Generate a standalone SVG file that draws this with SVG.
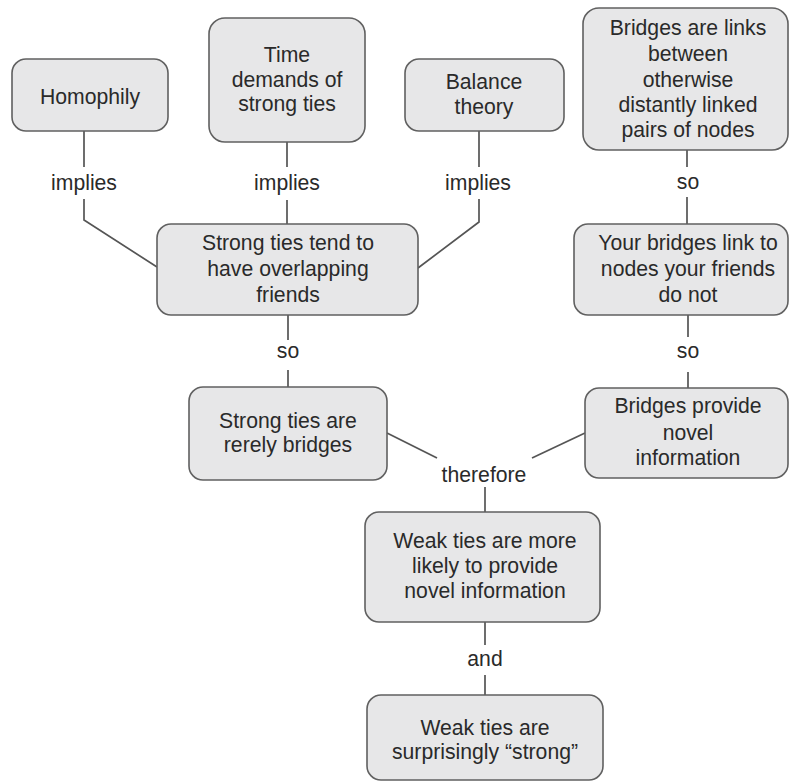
<svg xmlns="http://www.w3.org/2000/svg" width="789" height="782" viewBox="0 0 789 782">
<style>
.box{fill:#e7e7e8;stroke:#606060;stroke-width:1.6}
.t{font-family:"Liberation Sans",Arial,sans-serif;font-size:21.2px;fill:#2a2a2a;text-anchor:middle}
.c{fill:none;stroke:#555;stroke-width:1.7}
</style>
<rect width="789" height="782" fill="#fff"/>
<g id="connectors">
<path class="c" d="M84,131 V167 M84,199 V220 L157,267"/>
<path class="c" d="M287,142 V167 M287,200 V224"/>
<path class="c" d="M479,131 V167 M479,199 V222 L418,268"/>
<path class="c" d="M687,150 V167 M687,197 V224"/>
<path class="c" d="M288,315 V340 M288,370 V387"/>
<path class="c" d="M688,315 V337 M688,372 V388"/>
<path class="c" d="M387,433 L437,458"/>
<path class="c" d="M585,433 L532,458"/>
<path class="c" d="M485,487 V512"/>
<path class="c" d="M485,622 V645 M485,675 V695"/>
<text class="t" x="84" y="190">implies</text>
<text class="t" x="287" y="190">implies</text>
<text class="t" x="478" y="190">implies</text>
<text class="t" x="688" y="189">so</text>
<text class="t" x="288" y="358">so</text>
<text class="t" x="688" y="358">so</text>
<text class="t" x="484" y="482">therefore</text>
<text class="t" x="485" y="666">and</text>
</g>
<g id="homophily">
<rect class="box" x="12" y="59" width="156" height="72" rx="14"/>
<text class="t" x="90" y="104">Homophily</text>
</g>
<g id="time-demands">
<rect class="box" x="209" y="18" width="156" height="124" rx="16"/>
<text class="t" x="287" y="62">Time</text>
<text class="t" x="287" y="87">demands of</text>
<text class="t" x="287" y="111">strong ties</text>
</g>
<g id="balance-theory">
<rect class="box" x="405" y="59" width="159" height="72" rx="14"/>
<text class="t" x="484" y="89">Balance</text>
<text class="t" x="484" y="114">theory</text>
</g>
<g id="bridges-links">
<rect class="box" x="583" y="8" width="205" height="142" rx="16"/>
<text class="t" x="688" y="35">Bridges are links</text>
<text class="t" x="688" y="61">between</text>
<text class="t" x="688" y="87">otherwise</text>
<text class="t" x="688" y="112">distantly linked</text>
<text class="t" x="688" y="137">pairs of nodes</text>
</g>
<g id="strong-overlap">
<rect class="box" x="157" y="224" width="261" height="91" rx="14"/>
<text class="t" x="288" y="250">Strong ties tend to</text>
<text class="t" x="288" y="276">have overlapping</text>
<text class="t" x="288" y="302">friends</text>
</g>
<g id="your-bridges">
<rect class="box" x="574" y="224" width="214" height="91" rx="14"/>
<text class="t" x="688" y="250">Your bridges link to</text>
<text class="t" x="688" y="276">nodes your friends</text>
<text class="t" x="688" y="302">do not</text>
</g>
<g id="strong-rarely">
<rect class="box" x="189" y="387" width="198" height="93" rx="14"/>
<text class="t" x="288" y="428">Strong ties are</text>
<text class="t" x="288" y="452">rerely bridges</text>
</g>
<g id="bridges-novel">
<rect class="box" x="585" y="388" width="203" height="90" rx="14"/>
<text class="t" x="688" y="413">Bridges provide</text>
<text class="t" x="688" y="440">novel</text>
<text class="t" x="688" y="465">information</text>
</g>
<g id="weak-novel">
<rect class="box" x="365" y="512" width="235" height="110" rx="14"/>
<text class="t" x="485" y="548">Weak ties are more</text>
<text class="t" x="485" y="573">likely to provide</text>
<text class="t" x="485" y="598">novel information</text>
</g>
<g id="weak-strong">
<rect class="box" x="367" y="695" width="236" height="85" rx="14"/>
<text class="t" x="485" y="735">Weak ties are</text>
<text class="t" x="485" y="759">surprisingly “strong”</text>
</g>
</svg>
